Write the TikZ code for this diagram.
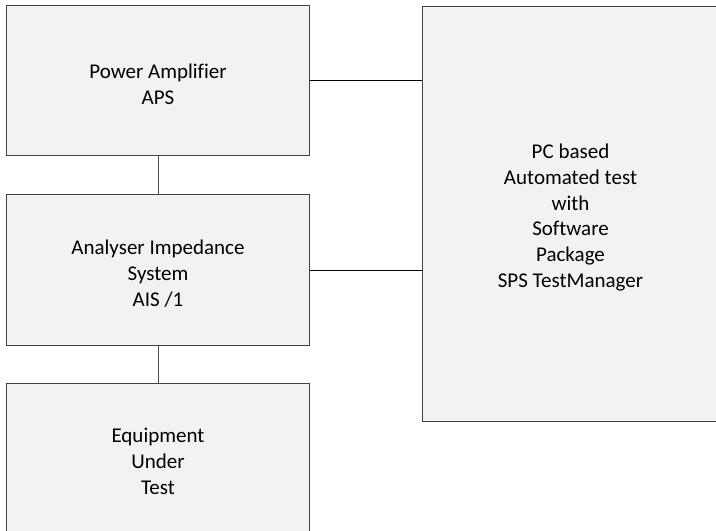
\documentclass[tikz,border=0pt]{standalone}
\usepackage{fontspec}
\setmainfont{Carlito}[Ligatures=NoCommon]
\begin{document}
\begin{tikzpicture}[x=1bp,y=-1bp,
  blk/.style={draw=black!75,fill=black!5,line width=1bp,rectangle,inner sep=0pt},
  lbl/.style={align=center,inner sep=0pt,font=\fontsize{21bp}{25.7bp}\selectfont,yshift=-3.5bp},
  link/.style={line width=1bp}]
\useasboundingbox (0,0) rectangle (716,531);
\clip (0,0) rectangle (716,531);
\node[blk,minimum width=302bp,minimum height=150bp] (amp) at (158,81) {};
\node[blk,minimum width=302bp,minimum height=150bp] (ais) at (158,270) {};
\node[blk,minimum width=302bp,minimum height=150bp] (eut) at (158,458) {};
\node[blk,minimum width=297bp,minimum height=414bp] (pc) at (570.5,214) {};
\node[lbl] (ampL) at (amp.center) {Power Amplifier\\APS};
\node[lbl] (aisL) at (ais.center) {Analyser Impedance\\System\\AIS /1};
\node[lbl] (eutL) at (eut.center) {Equipment\\Under\\Test};
\node[lbl] (pcL) at (pc.center) {PC based\\Automated test\\with\\Software\\Package\\SPS TestManager};
\draw[link,black] (amp.east) -- (amp.east -| pc.west);
\draw[link,black] (ais.east) -- (ais.east -| pc.west);
\draw[link,black!70] (amp.south) -- (ais.north);
\draw[link,black!70] (ais.south) -- (eut.north);
\end{tikzpicture}
\end{document}
